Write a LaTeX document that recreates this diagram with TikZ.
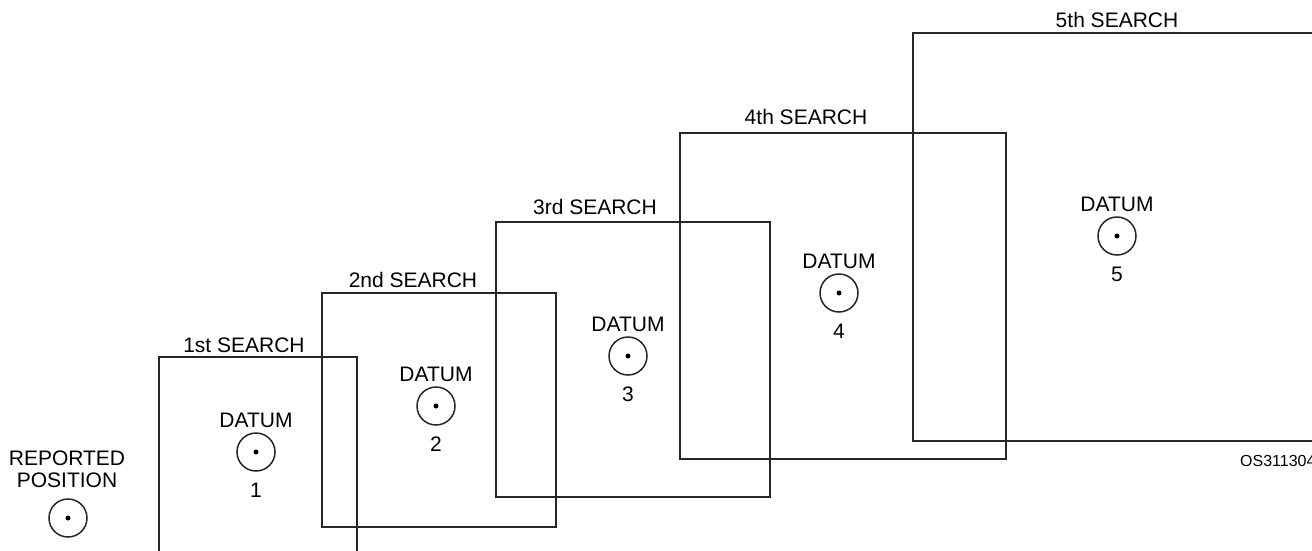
\documentclass[tikz,border=0pt]{standalone}
\usepackage{fontspec}
\setmainfont{Liberation Sans}
\begin{document}
\begin{tikzpicture}[x=1pt,y=-1pt,
  boxline/.style={line width=1.8pt, draw=black!85},
  lbl/.style={inner sep=0pt, font=\fontsize{21}{24}\selectfont},
  idlbl/.style={inner sep=0pt, anchor=west, font=\fontsize{16}{19}\selectfont},
  ring/.style={circle, draw=black!85, line width=1.5pt, minimum size=38pt, inner sep=0pt},
  dot/.style={circle, fill=black, minimum size=5pt, inner sep=0pt}]
\useasboundingbox (0,0) rectangle (1312,550);
\clip (0,0) rectangle (1312,550);
% search areas
\draw[boxline] (159,357) rectangle (357,580);
\draw[boxline] (322,293) rectangle (556,527);
\draw[boxline] (496,222) rectangle (770,497);
\draw[boxline] (680,133) rectangle (1006,459);
\draw[boxline] (913,33) rectangle (1340,441);
% search labels
\node[lbl] (s1) at (244,345) {1st SEARCH};
\node[lbl] (s2) at (413,280) {2nd SEARCH};
\node[lbl] (s3) at (595,207) {3rd SEARCH};
\node[lbl] (s4) at (806,117) {4th SEARCH};
\node[lbl] (s5) at (1117,20) {5th SEARCH};
% reported position
\node[lbl, align=center] (rp) at (67,469) {REPORTED\\[-2pt]POSITION};
\node[ring] (c0) at (68,518) {};
\node[dot] (d0) at (c0.center) {};
% datums
\foreach \i/\x/\y in {1/256/452, 2/436/406, 3/628/356, 4/839/293, 5/1117/236}{
  \node[ring] (c\i) at (\x,\y) {};
  \node[dot] (d\i) at (c\i.center) {};
  \node[lbl] (t\i) at (\x,\y-32) {DATUM};
  \node[lbl] (n\i) at (\x,\y+38) {\i};
}
\node[idlbl] (id) at (1240,461) {OS311304};
\end{tikzpicture}
\end{document}
